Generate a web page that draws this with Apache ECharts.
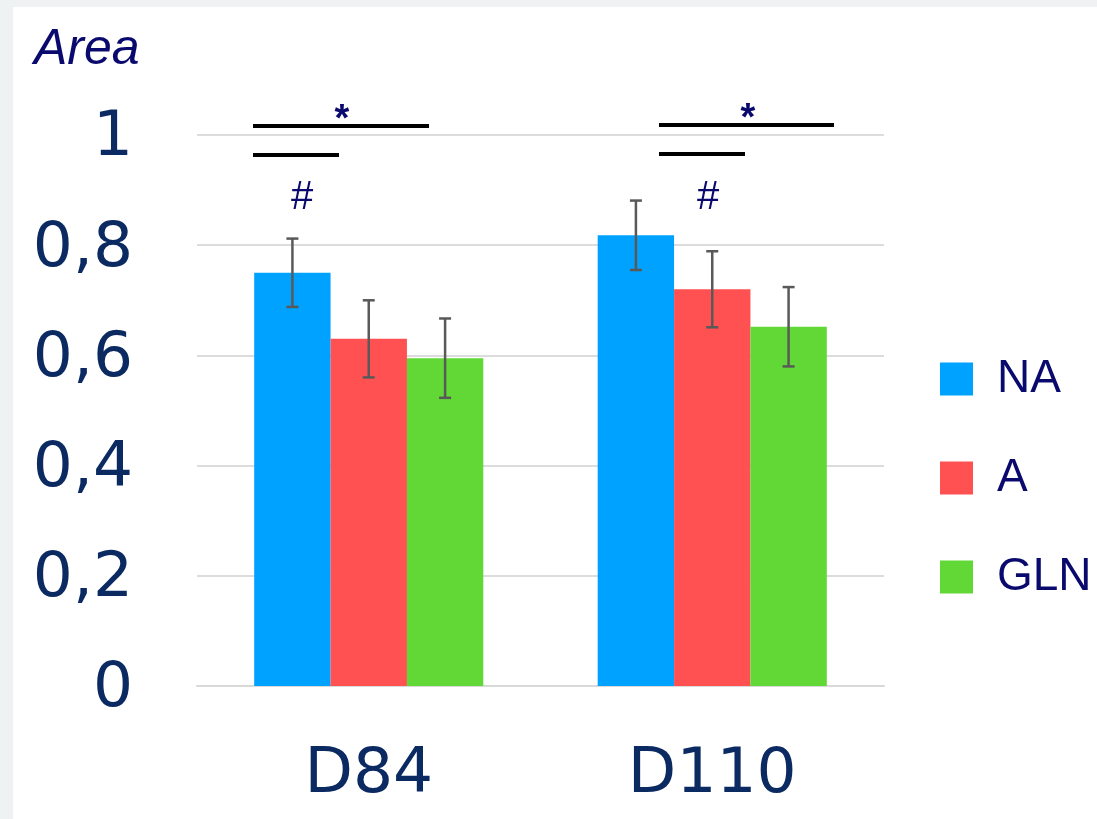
<!DOCTYPE html>
<html>
<head>
<meta charset="utf-8">
<script src="https://cdn.jsdelivr.net/npm/echarts@6/dist/echarts.min.js"></script>
<style>
  html, body { margin: 0; padding: 0; background: #eef2f3; }
  #chart { position: absolute; left: 13px; top: 7px; width: 1084px; height: 812px; background: #ffffff; }
</style>
</head>
<body>
<div id="chart"></div>
<script>
const categories = ['D84', 'D110'];
const seriesNames = ['NA', 'A', 'GLN'];
const naValues = [0.75, 0.818];
const aValues = [0.63, 0.72];
const glnValues = [0.595, 0.652];
const naErr = [0.062, 0.063];
const aErr = [0.07, 0.069];
const glnErr = [0.072, 0.072];
const colors = ['#00a2ff', '#ff5052', '#62d836'];

const axisColor = '#0c2a62';
const noteColor = '#0a0a6e';

var values = [naValues, aValues, glnValues];
var errors = [naErr, aErr, glnErr];

var series = [];
seriesNames.forEach(function (name, k) {
    series.push({
        name: name,
        type: 'bar',
        data: values[k],
        barGap: 0,
        barCategoryGap: '33.3%',
        itemStyle: { color: colors[k] },
        z: 2
    });
});

// error bars, one custom series per group
seriesNames.forEach(function (name, k) {
    series.push({
        name: name + ' err',
        type: 'custom',
        z: 5,
        data: categories.map(function (c, i) { return [i, values[k][i], errors[k][i]]; }),
        renderItem: function (params, api) {
            var band = api.size([1, 0])[0];
            var barW = band * (2 / 3) / 3;
            var off = (k - 1) * barW;
            var hi = api.coord([api.value(0), api.value(1) + api.value(2)]);
            var lo = api.coord([api.value(0), api.value(1) - api.value(2)]);
            var x = hi[0] + off;
            var cap = 6;
            var st = { stroke: '#595959', lineWidth: 2.5 };
            return {
                type: 'group',
                children: [
                    { type: 'line', shape: { x1: x, y1: hi[1], x2: x, y2: lo[1] }, style: st },
                    { type: 'line', shape: { x1: x - cap, y1: hi[1], x2: x + cap, y2: hi[1] }, style: st },
                    { type: 'line', shape: { x1: x - cap, y1: lo[1], x2: x + cap, y2: lo[1] }, style: st }
                ]
            };
        }
    });
});

function sigMark(x1, x2top, x2low, yTop, yLow, starX, hashX) {
    var ln = { stroke: '#000', lineWidth: 4 };
    return [
        { type: 'line', shape: { x1: x1, y1: yTop, x2: x2top, y2: yTop }, style: ln },
        { type: 'line', shape: { x1: x1, y1: yLow, x2: x2low, y2: yLow }, style: ln },
        { type: 'text', x: starX, y: yTop - 5, style: { text: '*', font: 'bold 38px "Liberation Sans"', fill: noteColor, align: 'center', verticalAlign: 'middle' } },
        { type: 'text', x: hashX, y: 191, style: { text: '#', font: '40px "Liberation Sans"', fill: noteColor, align: 'center', verticalAlign: 'middle' } }
    ];
}

var chart = echarts.init(document.getElementById('chart'));

var option = {
    animation: false,
    backgroundColor: '#ffffff',
    grid: { left: 184, right: 213, top: 128, bottom: 133 },
    legend: {
        orient: 'vertical',
        left: 922,
        top: 344,
        data: seriesNames,
        icon: 'rect',
        itemWidth: 33,
        itemHeight: 33,
        itemGap: 53,
        textStyle: {
            color: noteColor,
            fontFamily: 'Liberation Sans',
            fontSize: 46,
            padding: [4, 0, 0, 19]
        }
    },
    xAxis: {
        type: 'category',
        data: categories,
        axisTick: { show: false },
        axisLine: { lineStyle: { color: '#d9d9d9', width: 2 } },
        axisLabel: { color: axisColor, fontFamily: 'DejaVu Sans', fontSize: 63, margin: 58 }
    },
    yAxis: {
        type: 'value',
        min: 0,
        max: 1,
        interval: 0.2,
        axisLine: { show: false },
        axisTick: { show: false },
        splitLine: { lineStyle: { color: '#dcdcdc', width: 2 } },
        axisLabel: {
            margin: 64,
            formatter: function (v) { return '{t|' + String(Math.round(v * 10) / 10).replace('.', ',') + '}'; },
            rich: {
                t: { color: axisColor, fontFamily: 'DejaVu Sans', fontSize: 63, padding: [8, 0, 0, 0] }
            }
        }
    },
    graphic: [
        { type: 'text', left: 21, top: 18, style: { text: 'Area', font: 'italic 50px "Liberation Sans"', fill: noteColor } }
    ].concat(sigMark(240, 416, 326, 119, 148, 329, 289))
     .concat(sigMark(646, 821, 732, 118, 147, 735, 695)),
    series: series
};

chart.setOption(option);
</script>
</body>
</html>
